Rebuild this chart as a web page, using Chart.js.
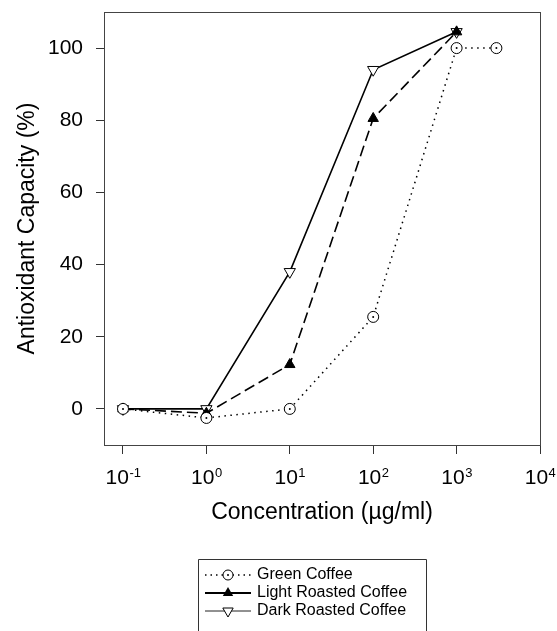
<!DOCTYPE html>
<html>
<head>
<meta charset="utf-8">
<script src="https://cdn.jsdelivr.net/npm/chart.js@4/dist/chart.umd.min.js"></script>
<style>
  html, body { margin: 0; padding: 0; background: #fff; }
  #wrap { width: 557px; height: 631px; position: relative; }
</style>
</head>
<body>
<div id="wrap"><canvas id="c" width="557" height="631"></canvas></div>
<script>
// ---- data ----
const concentrations = [0.1, 1, 10, 100, 1000];
const greenConc = [0.1, 1, 10, 100, 1000, 3000];
const greenCoffee = [0, -2.5, 0, 25.5, 100, 100];
const lightRoasted = [0, -1.2, 12.3, 80.5, 104.5];
const darkRoasted = [0, 0, 38, 94, 104.5];
const xTickExponents = [-1, 0, 1, 2, 3, 4];
const yTickValues = [0, 20, 40, 60, 80, 100];
const seriesNames = ['Green Coffee', 'Light Roasted Coffee', 'Dark Roasted Coffee'];

const FONT = "'Liberation Sans', Arial, Helvetica, sans-serif";

function pts(xs, ys) { return xs.map((x, i) => ({ x: x, y: ys[i] })); }

const framePlugin = {
  id: 'frameAndLabels',
  afterDatasetsDraw(chart) {
    const ctx = chart.ctx;
    const meta = chart.getDatasetMeta(0);
    ctx.save();
    ctx.fillStyle = '#000';
    meta.data.forEach(p => {
      ctx.beginPath();
      ctx.arc(p.x, p.y, 1, 0, Math.PI * 2);
      ctx.fill();
    });
    ctx.restore();
  },
  afterDraw(chart) {
    const ctx = chart.ctx;
    const a = chart.chartArea;
    const xs = chart.scales.x;
    ctx.save();
    ctx.strokeStyle = '#444';
    ctx.lineWidth = 1;
    ctx.strokeRect(Math.round(a.left) + 0.5, Math.round(a.top) + 0.5,
                   Math.round(a.right - a.left), Math.round(a.bottom - a.top));
    ctx.fillStyle = '#000';
    ctx.textBaseline = 'alphabetic';
    ctx.textAlign = 'left';
    xTickExponents.forEach(e => {
      const x = xs.getPixelForValue(Math.pow(10, e));
      ctx.font = '21px ' + FONT;
      const wb = ctx.measureText('10').width;
      ctx.font = '13px ' + FONT;
      const expText = e < 0 ? '-' + Math.abs(e) : String(e);
      const we = ctx.measureText(expText).width;
      const start = x - (wb + we) / 2;
      ctx.font = '21px ' + FONT;
      ctx.fillText('10', start, 484);
      ctx.font = '13px ' + FONT;
      ctx.fillText(expText, start + wb + 0.5, 477);
    });
    // legend
    const lx = 198, ly = 559;
    ctx.strokeStyle = '#333';
    ctx.lineWidth = 1;
    ctx.beginPath();
    ctx.moveTo(lx + 0.5, 640);
    ctx.lineTo(lx + 0.5, ly + 0.5);
    ctx.lineTo(426.5, ly + 0.5);
    ctx.lineTo(426.5, 640);
    ctx.stroke();
    const rows = [575, 593, 611];
    const x0 = 205, x1 = 251, mx = 228;
    ctx.strokeStyle = '#000';
    ctx.lineWidth = 1.4;
    ctx.setLineDash([1.5, 4]);
    ctx.beginPath(); ctx.moveTo(x0, rows[0]); ctx.lineTo(x1, rows[0]); ctx.stroke();
    ctx.setLineDash([]);
    ctx.fillStyle = '#fff';
    ctx.beginPath(); ctx.arc(mx, rows[0], 5, 0, Math.PI * 2); ctx.fill();
    ctx.lineWidth = 1; ctx.stroke();
    ctx.fillStyle = '#000';
    ctx.beginPath(); ctx.arc(mx, rows[0], 1, 0, Math.PI * 2); ctx.fill();
    ctx.lineWidth = 1.8;
    ctx.beginPath(); ctx.moveTo(x0, rows[1]); ctx.lineTo(x1, rows[1]); ctx.stroke();
    const r = 6;
    ctx.beginPath();
    ctx.moveTo(mx, rows[1] - r);
    ctx.lineTo(mx + r * 0.866, rows[1] + r * 0.5);
    ctx.lineTo(mx - r * 0.866, rows[1] + r * 0.5);
    ctx.closePath(); ctx.fill();
    ctx.lineWidth = 1;
    ctx.strokeStyle = '#222';
    ctx.beginPath(); ctx.moveTo(x0, rows[2]); ctx.lineTo(x1, rows[2]); ctx.stroke();
    ctx.fillStyle = '#fff';
    ctx.beginPath();
    ctx.moveTo(mx, rows[2] + r);
    ctx.lineTo(mx + r * 0.866, rows[2] - r * 0.5);
    ctx.lineTo(mx - r * 0.866, rows[2] - r * 0.5);
    ctx.closePath(); ctx.fill();
    ctx.strokeStyle = '#000'; ctx.stroke();
    ctx.fillStyle = '#000';
    ctx.font = '16px ' + FONT;
    ctx.textBaseline = 'middle';
    seriesNames.forEach((n, i) => ctx.fillText(n, 257, rows[i]));
    ctx.restore();
  }
};

new Chart(document.getElementById('c'), {
  type: 'line',
  data: {
    datasets: [
      {
        label: seriesNames[0],
        data: pts(greenConc, greenCoffee),
        borderColor: '#000',
        borderWidth: 1.5,
        borderDash: [1.5, 4.5],
        pointStyle: 'circle',
        pointRadius: 5.5,
        pointBorderWidth: 1,
        pointBorderColor: '#000',
        pointBackgroundColor: '#fff',
        fill: false,
        tension: 0
      },
      {
        label: seriesNames[1],
        data: pts(concentrations, lightRoasted),
        borderColor: '#000',
        borderWidth: 1.6,
        borderDash: [11, 5],
        pointStyle: 'triangle',
        pointRadius: 6,
        pointBorderWidth: 1,
        pointBorderColor: '#000',
        pointBackgroundColor: '#000',
        fill: false,
        tension: 0
      },
      {
        label: seriesNames[2],
        data: pts(concentrations, darkRoasted),
        borderColor: '#000',
        borderWidth: 1.6,
        pointStyle: 'triangle',
        rotation: 180,
        pointRotation: 180,
        pointRadius: 6.5,
        pointBorderWidth: 1,
        pointBorderColor: '#000',
        pointBackgroundColor: '#fff',
        fill: false,
        tension: 0
      }
    ]
  },
  options: {
    responsive: false,
    animation: false,
    devicePixelRatio: 1,
    layout: { padding: { top: 12, right: 17, left: 0, bottom: 0 } },
    plugins: { legend: { display: false }, tooltip: { enabled: false }, title: { display: false } },
    scales: {
      x: {
        type: 'logarithmic',
        min: 0.0592,
        max: 10000,
        afterBuildTicks: s => { s.ticks = xTickExponents.map(e => ({ value: Math.pow(10, e), major: true })); },
        afterFit: s => { s.height = 186; s.paddingLeft = 0; s.paddingRight = 0; },
        ticks: { display: false },
        grid: { display: true, drawOnChartArea: false, drawTicks: true, tickLength: 9, color: '#333', lineWidth: 1 },
        border: { display: false },
        title: {
          display: true,
          text: 'Concentration (µg/ml)',
          color: '#000',
          font: { family: FONT, size: 23 },
          padding: { top: 0, bottom: 105 }
        }
      },
      y: {
        type: 'linear',
        min: -10,
        max: 110,
        afterBuildTicks: s => { s.ticks = yTickValues.map(v => ({ value: v })); },
        afterFit: s => { s.width = 104; s.paddingTop = 0; s.paddingBottom = 0; },
        ticks: { color: '#000', font: { family: FONT, size: 21 }, padding: 13 },
        grid: { display: true, drawOnChartArea: false, drawTicks: true, tickLength: 8, color: '#333', lineWidth: 1 },
        border: { display: false },
        title: {
          display: true,
          text: 'Antioxidant Capacity (%)',
          color: '#000',
          font: { family: FONT, size: 23 },
          padding: { top: 14, bottom: 0 }
        }
      }
    }
  },
  plugins: [framePlugin]
});
</script>
</body>
</html>
